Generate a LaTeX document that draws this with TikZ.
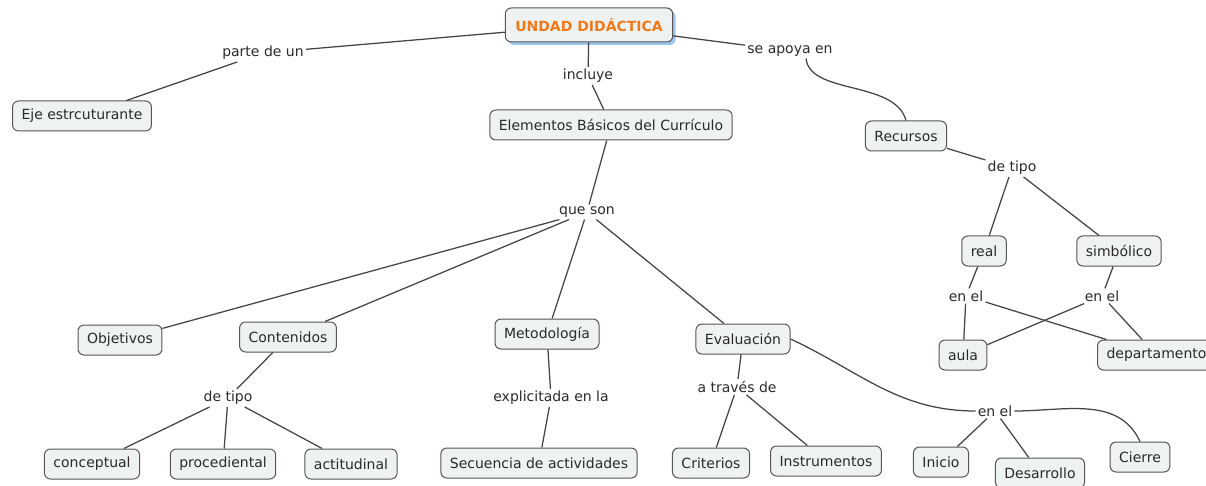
\documentclass[tikz,border=0pt]{standalone}
\usepackage{fontspec}
\setmainfont{DejaVu Sans}
\usetikzlibrary{shadows}
\definecolor{boxfill}{HTML}{EEF2F3}
\definecolor{boxline}{HTML}{555555}
\definecolor{linkc}{HTML}{444444}
\definecolor{txt}{HTML}{2A2A2A}
\definecolor{orangetxt}{HTML}{F07A1A}
\definecolor{shadowblue}{HTML}{9EC6EC}
\tikzset{
  concept/.style={draw=boxline, line width=1pt, fill=boxfill, rounded corners=6pt,
    minimum height=30pt, inner xsep=9pt, text=txt, font=\fontsize{14}{16}\selectfont},
  lbl/.style={inner sep=2pt, text=txt, font=\fontsize{14}{16}\selectfont},
  link/.style={draw=linkc, line width=1.25pt},
  mainbox/.style={concept, minimum height=34pt, inner xsep=10pt, text=orangetxt,
    font=\fontsize{14}{16}\selectfont\bfseries,
    drop shadow={shadow xshift=3pt, shadow yshift=-3pt, fill=shadowblue, opacity=1}}
}
\begin{document}
\begin{tikzpicture}[x=1pt,y=-1pt]
\useasboundingbox (0,0) rectangle (1206,486);
% concepts
\node[mainbox] (ud) at (589,25) {UNDAD DIDÁCTICA};
\node[concept] (eje) at (82,116) {Eje estrcuturante};
\node[concept] (ebc) at (611,125) {Elementos Básicos del Currículo};
\node[concept] (rec) at (906,136) {Recursos};
\node[concept] (real) at (984,251) {real};
\node[concept] (simb) at (1119,251) {simbólico};
\node[concept] (aula) at (963,355) {aula};
\node[concept, anchor=west] (dep) at (1097,355) {departamento};
\node[concept] (obj) at (120,340) {Objetivos};
\node[concept] (cont) at (288,337) {Contenidos};
\node[concept] (met) at (547,334) {Metodología};
\node[concept] (eval) at (743,339) {Evaluación};
\node[concept] (conc) at (92,464) {conceptual};
\node[concept] (proc) at (223,464) {procediental};
\node[concept] (act) at (351,464) {actitudinal};
\node[concept] (sec) at (539,463) {Secuencia de actividades};
\node[concept] (crit) at (711,463) {Criterios};
\node[concept] (inst) at (826,461) {Instrumentos};
\node[concept] (ini) at (941,462) {Inicio};
\node[concept] (des) at (1040,473) {Desarrollo};
\node[concept] (cie) at (1140,457) {Cierre};
% link labels
\node[lbl] (lparte) at (263,53) {parte de un};
\node[lbl] (linc) at (588,76) {incluye};
\node[lbl] (lapoya) at (790,51) {se apoya en};
\node[lbl] (lque) at (587,212) {que son};
\node[lbl] (ltipor) at (1012,168) {de tipo};
\node[lbl] (lenr) at (966,296) {en el};
\node[lbl] (lens) at (1102,296) {en el};
\node[lbl] (ltipoc) at (228,398) {de tipo};
\node[lbl] (lexp) at (551,398) {explicitada en la};
\node[lbl] (ltrav) at (737,387) {a través de};
\node[lbl] (lene) at (995,411) {en el};
% connectors
\draw[link] (ud) -- (lparte);
\draw[link] (lparte) -- (eje);
\draw[link] (ud) -- (linc);
\draw[link] (linc) -- (ebc);
\draw[link] (ud) -- (lapoya);
\draw[link] ([xshift=16pt]lapoya.south) .. controls (810,95) and (895,80) .. (rec.north);
\draw[link] (ebc) -- (lque);
\draw[link] (lque) -- (obj);
\draw[link] (lque) -- (cont);
\draw[link] (lque) -- (met);
\draw[link] (lque) -- (eval);
\draw[link] (cont) -- (ltipoc);
\draw[link] (ltipoc) -- (conc);
\draw[link] (ltipoc) -- (proc);
\draw[link] (ltipoc) -- (act);
\draw[link] (met) -- (lexp);
\draw[link] (lexp) -- (sec);
\draw[link] (eval) -- (ltrav);
\draw[link] (ltrav) -- (crit);
\draw[link] (ltrav) -- (inst);
\draw[link] (eval.east) to[out=-25,in=180] (lene.west);
\draw[link] (lene) -- (ini);
\draw[link] (lene) -- (des);
\draw[link] (lene.east) to[out=0,in=115] (cie.north);
\draw[link] (rec) -- (ltipor);
\draw[link] (ltipor) -- (real);
\draw[link] (ltipor) -- (simb);
\draw[link] (real) -- (lenr);
\draw[link] (lenr) -- (aula);
\draw[link] (lenr) -- (dep);
\draw[link] (simb) -- (lens);
\draw[link] (lens) -- (aula);
\draw[link] (lens) -- (dep);
\end{tikzpicture}
\end{document}
